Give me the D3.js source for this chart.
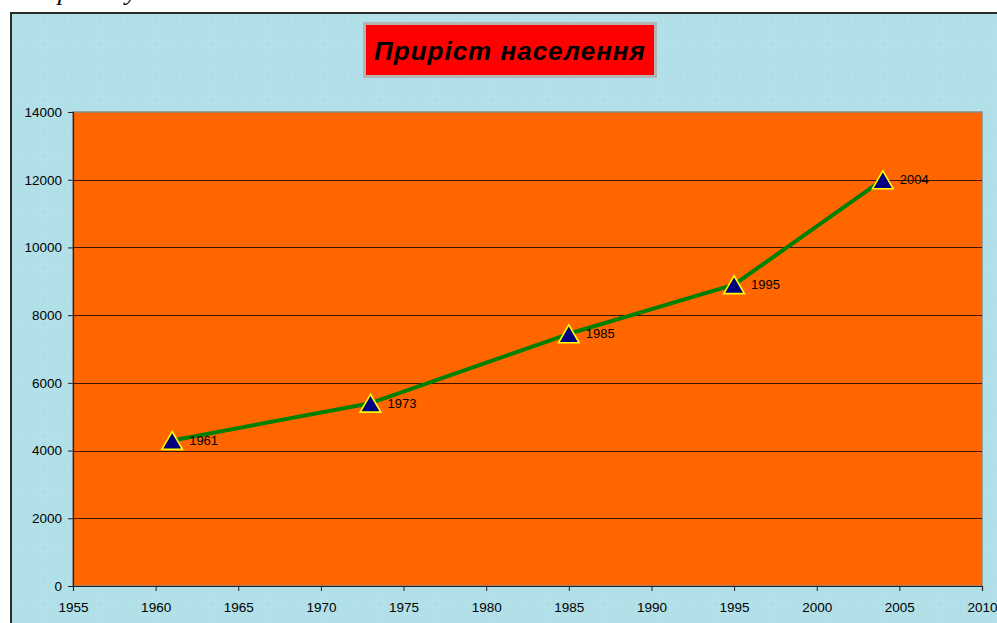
<!DOCTYPE html>
<html>
<head>
<meta charset="utf-8">
<script src="https://cdn.jsdelivr.net/npm/d3@7"></script>
<style>
  html, body { margin: 0; padding: 0; background: #ffffff; }
  svg { display: block; }
</style>
</head>
<body>
<script>
// ---- data ----
const years = [1961, 1973, 1985, 1995, 2004];
const population = [4300, 5400, 7450, 8900, 12000];
const pointLabels = ["1961", "1973", "1985", "1995", "2004"];
const xTicks = [1955, 1960, 1965, 1970, 1975, 1980, 1985, 1990, 1995, 2000, 2005, 2010];
const yTicks = [0, 2000, 4000, 6000, 8000, 10000, 12000, 14000];
const title = "Приріст населення";
const caption = "Прийому";

const W = 997, H = 623;
const svg = d3.select("body").append("svg").attr("width", W).attr("height", H);

// background texture
const defs = svg.append("defs");
const pat = defs.append("pattern").attr("id", "tex").attr("width", 7).attr("height", 7)
  .attr("patternUnits", "userSpaceOnUse");
pat.append("rect").attr("width", 7).attr("height", 7).attr("fill", "#b2e0e9");
pat.append("rect").attr("x", 1).attr("y", 2).attr("width", 1).attr("height", 1).attr("fill", "#a9d8e2");
pat.append("rect").attr("x", 5).attr("y", 5).attr("width", 1).attr("height", 1).attr("fill", "#bde6ee");
pat.append("rect").attr("x", 3).attr("y", 0).attr("width", 1).attr("height", 1).attr("fill", "#acdae3");

// cropped caption text at the top (only its descenders are visible)
svg.append("text").attr("x", 39).attr("y", 0)
  .attr("font-family", "Liberation Serif, serif").attr("font-style", "italic")
  .attr("font-size", 26).attr("fill", "#000").text(caption);

// chart frame
svg.append("rect").attr("x", 11).attr("y", 13).attr("width", W).attr("height", H)
  .attr("fill", "url(#tex)").attr("stroke", "#2b2b2b").attr("stroke-width", 2);

// scales
const x = d3.scaleLinear().domain([1955, 2010]).range([73, 982]);
const y = d3.scaleLinear().domain([0, 14000]).range([586, 112]);

// plot area
svg.append("rect").attr("x", x(1955)).attr("y", y(14000))
  .attr("width", x(2010) - x(1955)).attr("height", y(0) - y(14000))
  .attr("fill", "#ff6600").attr("stroke", "#8a8a8a").attr("stroke-width", 1.5);

// gridlines
svg.append("g").selectAll("line").data(yTicks.filter(d => d > 0 && d < 14000)).join("line")
  .attr("x1", x(1955)).attr("x2", x(2010))
  .attr("y1", d => Math.round(y(d)) + 0.5).attr("y2", d => Math.round(y(d)) + 0.5)
  .attr("stroke", "#3a1400").attr("stroke-width", 1);

// axes
const yAxis = d3.axisLeft(y).tickValues(yTicks).tickSize(5).tickPadding(6).tickFormat(d3.format("d"));
const gy = svg.append("g").attr("transform", `translate(${x(1955)},0)`).call(yAxis);
const xAxis = d3.axisBottom(x).tickValues(xTicks).tickSize(5).tickPadding(11).tickFormat(d3.format("d"));
const gx = svg.append("g").attr("transform", `translate(0,${y(0)})`).call(xAxis);
[gx, gy].forEach(g => {
  g.select(".domain").attr("stroke", "#222").attr("stroke-width", 1.2);
  g.selectAll(".tick line").attr("stroke", "#222");
  g.selectAll("text").attr("font-family", "Liberation Sans, Arial, sans-serif")
    .attr("font-size", 13.5).attr("fill", "#000");
});

// line
const pts = years.map((yr, i) => [yr, population[i]]);
svg.append("path").datum(pts)
  .attr("d", d3.line().x(d => x(d[0])).y(d => y(d[1])))
  .attr("fill", "none").attr("stroke", "#008000").attr("stroke-width", 4)
  .attr("stroke-linejoin", "round").attr("stroke-linecap", "round");

// markers
const tri = d3.symbol().type(d3.symbolTriangle).size(185);
svg.append("g").selectAll("path").data(pts).join("path")
  .attr("d", tri)
  .attr("transform", d => `translate(${x(d[0])},${y(d[1]) + 3})`)
  .attr("fill", "#000080").attr("stroke", "#ffff00").attr("stroke-width", 1.6);

// point labels
svg.append("g").selectAll("text").data(pts).join("text")
  .attr("x", d => x(d[0]) + 17).attr("y", d => y(d[1]) + 4.5)
  .attr("font-family", "Liberation Sans, Arial, sans-serif").attr("font-size", 13)
  .attr("fill", "#000").text((d, i) => pointLabels[i]);

// title box
const tg = svg.append("g");
tg.append("rect").attr("x", 364.5).attr("y", 23.5).attr("width", 291).attr("height", 53)
  .attr("fill", "#ff0000").attr("stroke", "#b4b4b4").attr("stroke-width", 3);
tg.append("text").attr("x", 510).attr("y", 60).attr("text-anchor", "middle")
  .attr("font-family", "Liberation Sans, Arial, sans-serif").attr("font-weight", "bold")
  .attr("font-style", "italic").attr("font-size", 26).attr("letter-spacing", 1)
  .attr("fill", "#000").text(title);
</script>
</body>
</html>
